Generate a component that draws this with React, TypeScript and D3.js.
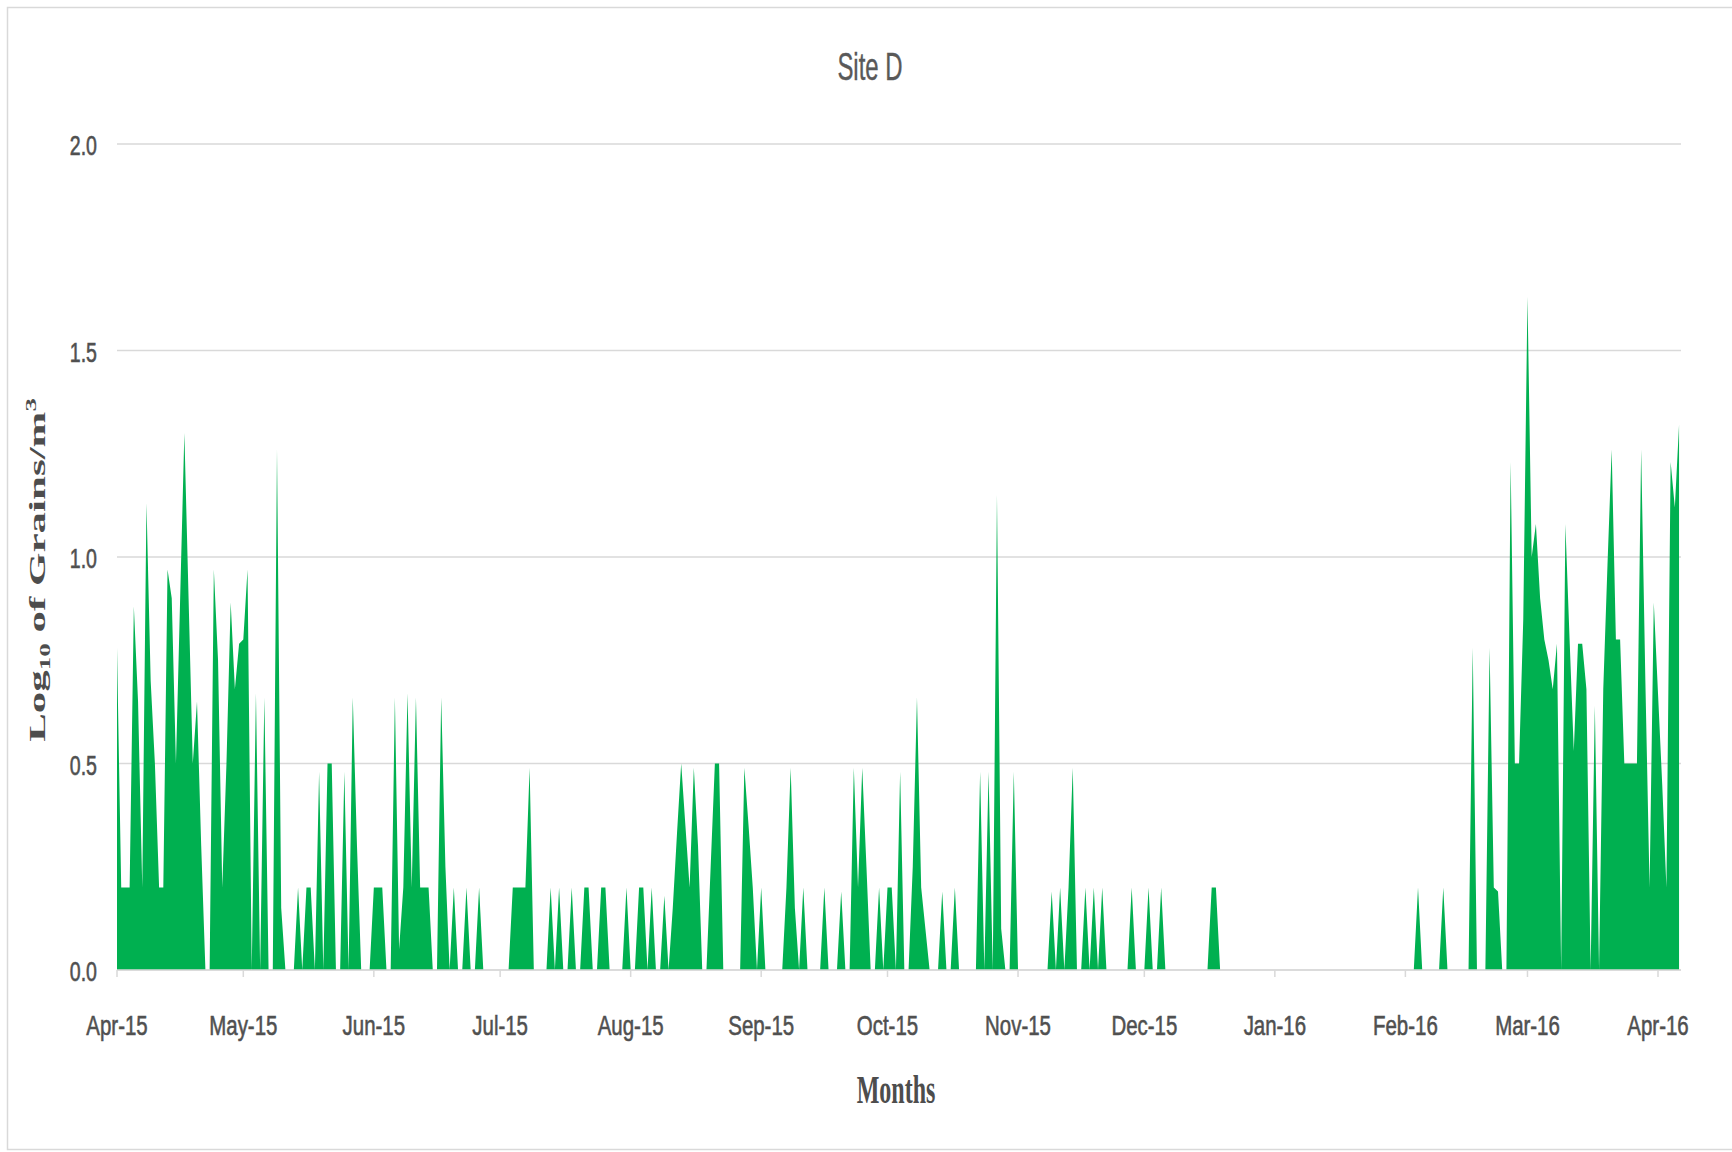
import React from 'react';
import * as d3 from 'd3';

// Daily log10 pollen values, one array per month (Apr 2015 – Apr 2016)
const apr15 = [0.78,0.2,0.2,0.2,0.88,0.65,0.2,1.13,0.7,0.5,0.2,0.2,0.97,0.9,0.5,0.9,1.3,0.9,0.5,0.65,0.3,0,0,0.97,0.75,0.2,0.5,0.89,0.68,0.79];
const may15 = [0.8,0.97,0,0.67,0,0.66,0,0,1.26,0.15,0,0,0,0.2,0,0.2,0.2,0,0.48,0,0.5,0.5,0,0,0.48,0,0.66,0.3,0,0,0];
const jun15 = [0.2,0.2,0.2,0,0,0.66,0.05,0.2,0.67,0.2,0.66,0.2,0.2,0.2,0,0,0.66,0.25,0,0.2,0,0,0.2,0,0,0.2,0,0,0,0];
const jul15 = [0,0,0,0.2,0.2,0.2,0.2,0.49,0,0,0,0,0.2,0,0.2,0,0,0.2,0,0,0.2,0.2,0,0,0.2,0.2,0,0,0,0,0.2];
const aug15 = [0,0,0.2,0.2,0,0.2,0,0,0.18,0,0.15,0.33,0.5,0.35,0.2,0.49,0.3,0,0,0.25,0.5,0.5,0,0,0,0,0,0.49,0.35,0.2,0];
const sep15 = [0.2,0,0,0,0,0,0.2,0.49,0.15,0,0.2,0,0,0,0,0.2,0,0,0,0.19,0,0,0.49,0.2,0.49,0.25,0,0,0.2,0];
const oct15 = [0.2,0.2,0,0.48,0,0,0.25,0.66,0.2,0.1,0,0,0,0.19,0,0,0.2,0,0,0,0,0,0.48,0,0.48,0,1.15,0.1,0,0,0.48];
const nov15 = [0,0,0,0,0,0,0,0,0.19,0,0.2,0,0.2,0.49,0,0,0.2,0,0.2,0,0.2,0,0,0,0,0,0,0.2,0,0];
const dec15 = [0,0.2,0,0,0.2,0,0,0,0,0,0,0,0,0,0,0,0.2,0.2,0,0,0,0,0,0,0,0,0,0,0,0,0];
const jan16 = [0,0,0,0,0,0,0,0,0,0,0,0,0,0,0,0,0,0,0,0,0,0,0,0,0,0,0,0,0,0,0];
const feb16 = [0,0,0,0.2,0,0,0,0,0,0.2,0,0,0,0,0,0,0.78,0,0,0,0.78,0.2,0.19,0,0,1.23,0.5,0.5,0.85];
const mar16 = [1.63,1.0,1.08,0.9,0.8,0.75,0.68,0.79,0,1.08,0.8,0.53,0.79,0.79,0.68,0,0.64,0,0.68,0.98,1.26,0.8,0.8,0.5,0.5,0.5,0.5,1.26,0.7,0.2,0.89];
const apr16 = [0.67,0.45,0.2,1.23,1.12,1.32];

const monthSeries = [apr15, may15, jun15, jul15, aug15, sep15, oct15, nov15, dec15, jan16, feb16, mar16, apr16];
const yTicks = [0, 0.5, 1.0, 1.5, 2.0];
const chartTitle = 'Site D';
const xTitle = 'Months';

export default function App() {
  const W = 1732, H = 1152;
  const start = new Date(Date.UTC(2015, 3, 1));
  const end = new Date(Date.UTC(2016, 3, 1));
  const values = monthSeries.flat();
  const data = values.map((v, i) => ({ date: d3.utcDay.offset(start, i), v }));

  const x = d3.scaleUtc().domain([start, end]).range([117, 1658]);
  const y = d3.scaleLinear().domain([0, 2]).range([970, 144]);
  const area = d3.area<{ date: Date; v: number }>()
    .x(d => x(d.date))
    .y0(y(0))
    .y1(d => y(d.v));

  const monthTicks = d3.utcMonth.range(start, d3.utcDay.offset(end, 1));
  const fmt = d3.utcFormat('%b-%y');
  const gridX0 = 117, gridX1 = 1681;
  const labelFont = "'Liberation Sans', Arial, sans-serif";

  return (
    <div style={{ position: 'absolute', left: 0, top: 0 }}>
      <svg width={W} height={H} style={{ display: 'block', background: '#fff' }}>
        <rect x={7.5} y={7.5} width={1740} height={1142} fill="#fff" stroke="#d9d9d9" strokeWidth={1.5} />
        <text
          transform={`translate(870,80) scale(0.63,1)`}
          textAnchor="middle"
          fontFamily={labelFont}
          fontSize={38}
          fill="#595959"
          stroke="#595959"
          strokeWidth={0.4}
        >{chartTitle}</text>

        {yTicks.map(t => (
          <g key={t}>
            <line x1={gridX0} x2={gridX1} y1={y(t)} y2={y(t)} stroke="#d9d9d9" strokeWidth={1.5} />
            <text
              transform={`translate(97,${y(t) + 11}) scale(0.7,1)`}
              textAnchor="end"
              fontFamily={labelFont}
              fontSize={28}
              fill="#505050"
              stroke="#505050"
              strokeWidth={0.6}
            >{t.toFixed(1)}</text>
          </g>
        ))}

        <path d={area(data) || ''} fill="#00b050" />

        <line x1={gridX0} x2={gridX1} y1={y(0)} y2={y(0)} stroke="#d9d9d9" strokeWidth={1.5} />
        {monthTicks.map(m => (
          <g key={m.toISOString()}>
            <line x1={x(m)} x2={x(m)} y1={y(0)} y2={y(0) + 7} stroke="#d9d9d9" strokeWidth={1.5} />
            <text
              transform={`translate(${x(m)},1035) scale(0.73,1)`}
              textAnchor="middle"
              fontFamily={labelFont}
              fontSize={28}
              fill="#505050"
              stroke="#505050"
              strokeWidth={0.6}
            >{fmt(m)}</text>
          </g>
        ))}

        <text
          transform={`translate(896,1103) scale(0.6,1)`}
          textAnchor="middle"
          fontFamily="'Liberation Serif', 'Times New Roman', serif"
          fontWeight="bold"
          fontSize={40}
          fill="#4d4d4d"
        >{xTitle}</text>

        <text
          transform={`translate(45,570) scale(0.55,1) rotate(-90)`}
          textAnchor="middle"
          fontFamily="'Liberation Serif', 'Times New Roman', serif"
          fontWeight="bold"
          fontSize={43}
          fill="#4d4d4d"
        >Log<tspan dy={9} fontSize={27}>10</tspan><tspan dy={-9}> of Grains/m</tspan><tspan dy={-17} fontSize={27}>3</tspan></text>
      </svg>
    </div>
  );
}
